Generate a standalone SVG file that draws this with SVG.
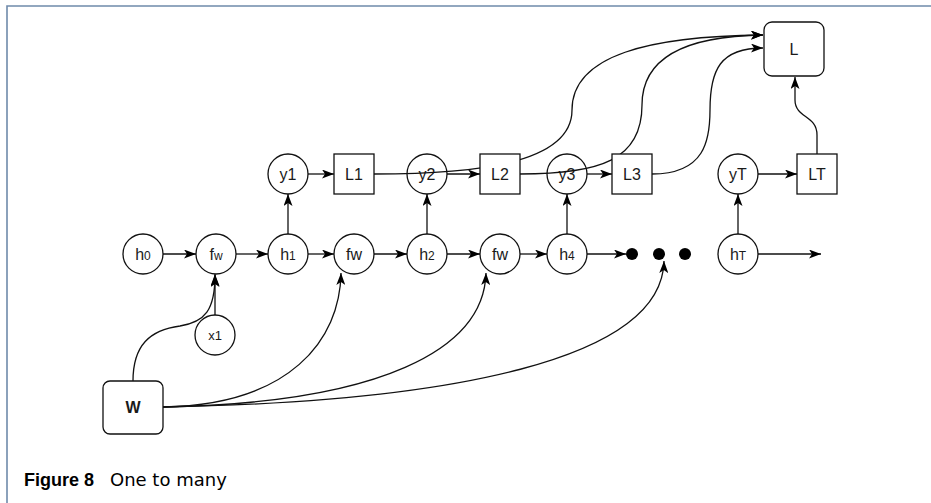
<svg xmlns="http://www.w3.org/2000/svg" width="931" height="503" viewBox="0 0 931 503">
<style>
.n{fill:#fff;stroke:#111;stroke-width:1.3}
.d{fill:#000}
.t{font-family:"Liberation Sans",Arial,sans-serif;font-size:16px;fill:#1a1a1a;text-anchor:middle}
.s{font-size:12px}
.e{fill:none;stroke:#111;stroke-width:1.3}
.a{marker-end:url(#ah)}
.frame{stroke:#6f8aab;stroke-width:1.6;fill:none}
.capb{font-family:"Liberation Sans",Arial,sans-serif;font-size:18px;font-weight:bold;fill:#000}
.cap{font-family:"DejaVu Sans",sans-serif;font-size:18px;fill:#000}
</style>
<defs>
<marker id="ah" viewBox="0 0 12 9" refX="12" refY="4.5" markerWidth="12" markerHeight="9" orient="auto" markerUnits="userSpaceOnUse"><path d="M0,0 L12,4.5 L0,9 L3,4.5 z" fill="#000"/></marker>
</defs>
<path class="frame" d="M931,6 H7 V503"/>

<g id="h0"><circle class="n" cx="143" cy="254" r="20"/><text class="t" x="143" y="259.5">h<tspan class="s">0</tspan></text></g>
<g id="fw1"><circle class="n" cx="216" cy="254" r="20"/><text class="t" x="216" y="259.5">f<tspan class="s">w</tspan></text></g>
<g id="h1"><circle class="n" cx="288" cy="254" r="20"/><text class="t" x="288" y="259.5">h<tspan class="s">1</tspan></text></g>
<g id="fw2"><circle class="n" cx="354" cy="254" r="20"/><text class="t" x="354" y="259.5">fw</text></g>
<g id="h2"><circle class="n" cx="427" cy="254" r="20"/><text class="t" x="427" y="259.5">h<tspan class="s">2</tspan></text></g>
<g id="fw3"><circle class="n" cx="500" cy="254" r="20"/><text class="t" x="500" y="259.5">fw</text></g>
<g id="h4"><circle class="n" cx="567" cy="254" r="20"/><text class="t" x="567" y="259.5">h<tspan class="s">4</tspan></text></g>
<g id="dots"><circle class="d" cx="632" cy="254" r="6"/><circle class="d" cx="659" cy="254" r="6"/><circle class="d" cx="685" cy="254" r="6"/></g>
<g id="hT"><circle class="n" cx="738" cy="254" r="20"/><text class="t" x="738" y="259.5">h<tspan class="s">T</tspan></text></g>
<g id="x1"><circle class="n" cx="215" cy="335" r="20"/><text class="t" x="215" y="339.5" style="font-size:13px">x1</text></g>
<g id="y1"><circle class="n" cx="288" cy="174" r="20"/><text class="t" x="288" y="179.5">y1</text></g>
<g id="y2"><circle class="n" cx="427" cy="174" r="20"/><text class="t" x="427" y="179.5">y2</text></g>
<g id="y3"><circle class="n" cx="567" cy="174" r="20"/><text class="t" x="567" y="179.5">y3</text></g>
<g id="yT"><circle class="n" cx="738" cy="174" r="20"/><text class="t" x="738" y="179.5">yT</text></g>

<g id="connectors">
<path class="e a" d="M163,254 H196"/>
<path class="e a" d="M236,254 H268"/>
<path class="e a" d="M308,254 H334"/>
<path class="e a" d="M374,254 H407"/>
<path class="e a" d="M447,254 H480"/>
<path class="e a" d="M520,254 H547"/>
<path class="e a" d="M587,254 H626"/>
<path class="e a" d="M758,254 H821"/>
<path class="e a" d="M288,234 V194"/>
<path class="e a" d="M427,234 V194"/>
<path class="e a" d="M567,234 V194"/>
<path class="e a" d="M738,234 V194"/>
<path class="e a" d="M308,174 H334"/>
<path class="e a" d="M447,174 H480"/>
<path class="e a" d="M587,174 H612"/>
<path class="e a" d="M758,174 H797"/>
<path class="e a" d="M215,315 V274"/>
<path class="e a" d="M133,381 C133,345 150,330 180,326 C205,322 215,310 215,275"/>
<path class="e a" d="M163,407 C290,405 340,340 341,273"/>
<path class="e a" d="M163,407 C380,403 484,350 486,273"/>
<path class="e a" d="M163,407 C450,402 662,360 664,261"/>
<path class="e a" d="M374,174 C470,174 572,165 572,110 C572,55 650,36 763,35"/>
<path class="e a" d="M520,174 C600,174 642,160 642,105 C642,60 680,36 763,35"/>
<path class="e a" d="M652,174 C705,174 710,140 710,110 C710,70 720,48 763,48"/>
<path class="e a" d="M817,154 V135 C817,115 795,118 795,100 V77"/>
</g>

<g id="L1"><rect class="n" x="334" y="154" width="40" height="40"/><text class="t" x="354" y="179.5">L1</text></g>
<g id="L2"><rect class="n" x="480" y="154" width="40" height="40"/><text class="t" x="500" y="179.5">L2</text></g>
<g id="L3"><rect class="n" x="612" y="154" width="40" height="40"/><text class="t" x="632" y="179.5">L3</text></g>
<g id="LT"><rect class="n" x="797" y="154" width="40" height="40"/><text class="t" x="817" y="179.5">LT</text></g>
<g id="L"><rect class="n" x="764" y="22" width="60" height="54" rx="8"/><text class="t" x="794" y="54.5">L</text></g>
<g id="W"><rect class="n" x="103" y="381" width="60" height="53" rx="7"/><text class="t" x="133" y="413" style="font-weight:bold">W</text></g>

<text class="capb" x="24" y="486">Figure 8</text>
<text class="cap" x="110" y="486">One to many</text>
</svg>
